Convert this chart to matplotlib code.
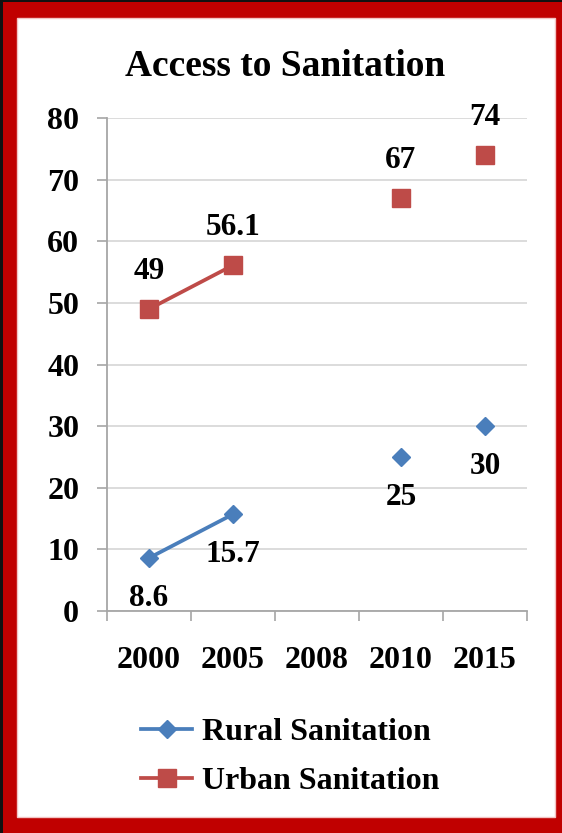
import matplotlib
matplotlib.use("Agg")
import matplotlib.pyplot as plt
import numpy as np
from matplotlib.patches import Rectangle

years = ["2000", "2005", "2008", "2010", "2015"]
rural = [8.6, 15.7, np.nan, 25, 30]
urban = [49, 56.1, np.nan, 67, 74]
rural_labels = ["8.6", "15.7", "", "25", "30"]
urban_labels = ["49", "56.1", "", "67", "74"]
# only 2000-2005 is joined by a line in the original; later points stand alone
joined = [True, True, False, False, False]

plt.rcParams['font.family'] = ['Liberation Serif', 'DejaVu Serif']
plt.rcParams['font.weight'] = 'bold'

W, H = 562, 833
fig = plt.figure(figsize=(W / 100, H / 100), dpi=100)
fig.patch.set_facecolor('#C00000')

# frame: white panel inside the red border, dark edge at left/top
fig.patches.append(Rectangle((17 / W, (H - 817) / H), (555 - 17) / W, (817 - 18) / H,
                             transform=fig.transFigure, facecolor='white',
                             edgecolor='#F2C4C4', lw=1, zorder=-10))
fig.patches.append(Rectangle((0, 0), 3 / W, 1, transform=fig.transFigure,
                             facecolor='#111111', edgecolor='none', zorder=-10))
fig.patches.append(Rectangle((0, 1 - 2 / H), 1, 2 / H, transform=fig.transFigure,
                             facecolor='#111111', edgecolor='none', zorder=-10))

ax = fig.add_axes([107 / W, (H - 611) / H, (527 - 107) / W, (611 - 118) / H])
ax.set_facecolor('white')

x = np.arange(len(years))
jm = np.array(joined)
blue = '#4A7EBB'
red = '#BE4B48'
r = np.array(rural)
u = np.array(urban)
ax.plot(x[jm], r[jm], color=blue, lw=2.7, marker='D', markersize=9.5,
        label='Rural Sanitation', zorder=3)
ax.plot(x[~jm], r[~jm], color=blue, ls='none', marker='D', markersize=9.5, zorder=3)
ax.plot(x[jm], u[jm], color=red, lw=2.7, marker='s', markersize=13.5,
        label='Urban Sanitation', zorder=3)
ax.plot(x[~jm], u[~jm], color=red, ls='none', marker='s', markersize=13.5, zorder=3)

for xi, v, t in zip(x, rural, rural_labels):
    if t:
        ax.annotate(t, (xi, v), xytext=(0, -29), textcoords='offset points',
                    ha='center', va='center', fontsize=22.5, fontweight='bold')
for xi, v, t in zip(x, urban, urban_labels):
    if t:
        ax.annotate(t, (xi, v), xytext=(0, 27), textcoords='offset points',
                    ha='center', va='center', fontsize=22.5, fontweight='bold')

ax.set_xlim(-0.5, len(years) - 0.5)
ax.set_ylim(0, 80)
ax.set_yticks(np.arange(0, 81, 10))
ax.set_xticks(x)
ax.set_xticklabels(years)
ax.set_xticks(np.arange(-0.5, len(years), 1), minor=True)
ax.tick_params(axis='x', which='major', length=0, pad=25, labelsize=23)
ax.tick_params(axis='x', which='minor', length=7, width=1.2, color='#A6A6A6')
ax.tick_params(axis='y', length=7, width=1.2, color='#A6A6A6', pad=13, labelsize=23)
ax.grid(axis='y', color='#D9D9D9', lw=1.3)
ax.set_axisbelow(True)
for s in ['top', 'right']:
    ax.spines[s].set_visible(False)
for s in ['left', 'bottom']:
    ax.spines[s].set_color('#A6A6A6')
    ax.spines[s].set_linewidth(1.3)

fig.text(285 / W, 1 - 66 / H, 'Access to Sanitation', ha='center', va='center',
         fontsize=27, fontweight='bold')

fig.legend(loc='center', bbox_to_anchor=(290 / W, 1 - 757 / H), frameon=False,
           fontsize=23, handlelength=1.6, handletextpad=0.3, labelspacing=0.6,
           borderpad=0)

fig.savefig('out.png', dpi=100, facecolor=fig.get_facecolor())
